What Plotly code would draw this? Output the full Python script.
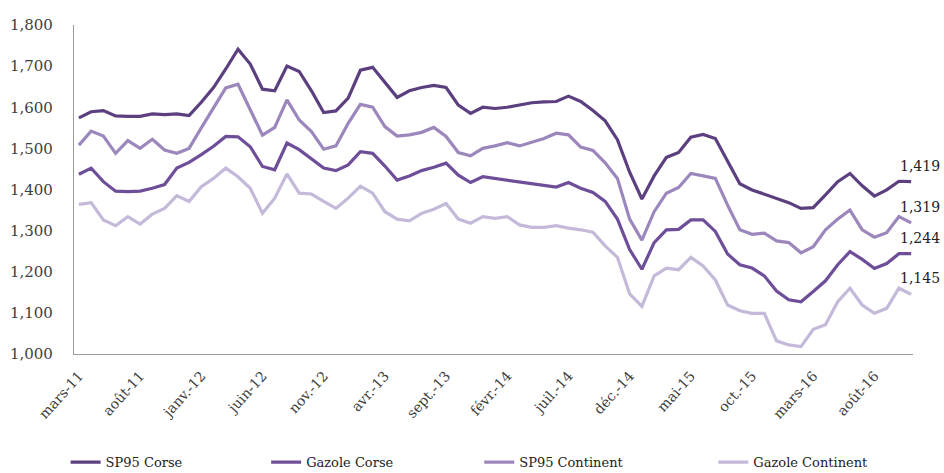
import plotly.graph_objects as go

months = [
    "mars-11", "avr.-11", "mai-11", "juin-11", "juil.-11", "août-11", "sept.-11", "oct.-11", "nov.-11", "déc.-11",
    "janv.-12", "févr.-12", "mars-12", "avr.-12", "mai-12", "juin-12", "juil.-12", "août-12", "sept.-12", "oct.-12", "nov.-12", "déc.-12",
    "janv.-13", "févr.-13", "mars-13", "avr.-13", "mai-13", "juin-13", "juil.-13", "août-13", "sept.-13", "oct.-13", "nov.-13", "déc.-13",
    "janv.-14", "févr.-14", "mars-14", "avr.-14", "mai-14", "juin-14", "juil.-14", "août-14", "sept.-14", "oct.-14", "nov.-14", "déc.-14",
    "janv.-15", "févr.-15", "mars-15", "avr.-15", "mai-15", "juin-15", "juil.-15", "août-15", "sept.-15", "oct.-15", "nov.-15", "déc.-15",
    "janv.-16", "févr.-16", "mars-16", "avr.-16", "mai-16", "juin-16", "juil.-16", "août-16", "sept.-16", "oct.-16", "nov.-16",
]

tick_labels = ["mars-11", "août-11", "janv.-12", "juin-12", "nov.-12", "avr.-13", "sept.-13",
               "févr.-14", "juil.-14", "déc.-14", "mai-15", "oct.-15", "mars-16", "août-16"]

sp95_corse = [
    1.574, 1.589, 1.592, 1.579, 1.578, 1.578, 1.584, 1.582, 1.584, 1.580,
    1.612, 1.648, 1.693, 1.741, 1.705, 1.644, 1.640, 1.700, 1.687, 1.640, 1.587, 1.591,
    1.622, 1.690, 1.697, 1.660, 1.624, 1.640, 1.648, 1.653, 1.648, 1.605, 1.585, 1.600,
    1.597, 1.600, 1.605, 1.611, 1.613, 1.614, 1.627, 1.614, 1.592, 1.567, 1.521, 1.442,
    1.377, 1.433, 1.478, 1.490, 1.527, 1.534, 1.524, 1.468, 1.414, 1.399, 1.389, 1.377,
    1.368, 1.354, 1.356, 1.387, 1.419, 1.439, 1.409, 1.384, 1.399, 1.420, 1.419,
]

gazole_corse = [
    1.437, 1.452, 1.419, 1.396, 1.395, 1.396, 1.403, 1.412, 1.452, 1.466,
    1.485, 1.505, 1.529, 1.528, 1.504, 1.456, 1.448, 1.513, 1.497, 1.475, 1.452, 1.446,
    1.460, 1.492, 1.488, 1.457, 1.423, 1.433, 1.446, 1.454, 1.464, 1.435, 1.417, 1.431,
    1.427, 1.423, 1.419, 1.415, 1.410, 1.406, 1.417, 1.403, 1.393, 1.371, 1.328, 1.254,
    1.206, 1.271, 1.302, 1.303, 1.326, 1.326, 1.298, 1.243, 1.217, 1.209, 1.190, 1.153,
    1.132, 1.127, 1.152, 1.178, 1.217, 1.249, 1.230, 1.208, 1.220, 1.244, 1.244,
]

sp95_continent = [
    1.508, 1.542, 1.530, 1.488, 1.519, 1.500, 1.522, 1.496, 1.488, 1.500,
    1.550, 1.598, 1.647, 1.656, 1.593, 1.532, 1.551, 1.618, 1.569, 1.541, 1.498, 1.506,
    1.561, 1.607, 1.600, 1.553, 1.530, 1.533, 1.539, 1.551, 1.529, 1.490, 1.482, 1.500,
    1.506, 1.514, 1.506, 1.514, 1.524, 1.537, 1.533, 1.503, 1.495, 1.465, 1.427, 1.328,
    1.277, 1.346, 1.391, 1.405, 1.439, 1.433, 1.427, 1.362, 1.302, 1.291, 1.294, 1.275,
    1.271, 1.246, 1.261, 1.302, 1.328, 1.350, 1.302, 1.284, 1.295, 1.334, 1.319,
]

gazole_continent = [
    1.364, 1.368, 1.326, 1.312, 1.334, 1.316, 1.340, 1.354, 1.385, 1.371,
    1.407, 1.427, 1.452, 1.431, 1.403, 1.342, 1.379, 1.438, 1.391, 1.389, 1.371, 1.354,
    1.379, 1.408, 1.391, 1.346, 1.328, 1.324, 1.342, 1.352, 1.366, 1.328, 1.318, 1.334,
    1.330, 1.334, 1.314, 1.308, 1.308, 1.312, 1.306, 1.302, 1.296, 1.263, 1.235, 1.146,
    1.116, 1.190, 1.209, 1.205, 1.235, 1.214, 1.180, 1.119, 1.105, 1.099, 1.099, 1.032,
    1.022, 1.018, 1.060, 1.071, 1.127, 1.160, 1.119, 1.099, 1.111, 1.160, 1.145,
]

series_names = ["SP95 Corse", "Gazole Corse", "SP95 Continent", "Gazole Continent"]
series_values = [sp95_corse, gazole_corse, sp95_continent, gazole_continent]
colors = ["#5b3f7f", "#6e4e99", "#9c87bd", "#c5b9da"]
legend_x = [-0.01, 0.229, 0.483, 0.762]

FONT = "DejaVu Serif"
fig = go.Figure()

for k, (name, vals, col) in enumerate(zip(series_names, series_values, colors)):
    lg = "legend" if k == 0 else f"legend{k+1}"
    fig.add_trace(go.Scatter(
        x=months, y=vals, mode="lines", name=name,
        line=dict(color=col, width=3.2), legend=lg,
        hoverinfo="skip",
    ))
    fig.add_annotation(
        x=months[-1], y=vals[-1], text=f"{vals[-1]:.3f}".replace(".", ","),
        showarrow=False, xshift=9, yshift=16,
        font=dict(family=FONT, size=14, color="#222222"),
    )

legend_common = dict(orientation="h", yanchor="top", y=-0.283, xanchor="left",
                     font=dict(family=FONT, size=13, color="#222222"),
                     bgcolor="rgba(0,0,0,0)", borderwidth=0)
layout_legends = {}
for k in range(4):
    key = "legend" if k == 0 else f"legend{k+1}"
    layout_legends[key] = dict(legend_common, x=legend_x[k])

fig.update_layout(
    width=944, height=473,
    margin=dict(l=74, r=31, t=25, b=119, autoexpand=False),
    paper_bgcolor="white", plot_bgcolor="white",
    separators=", ",
    showlegend=True,
    font=dict(family=FONT, size=14, color="#404040"),
    **layout_legends,
)

fig.update_xaxes(
    type="category", range=[-0.4, 68.15],
    tickmode="array", tickvals=tick_labels, ticktext=tick_labels,
    tickangle=-48, showgrid=False, zeroline=False, automargin=False,
    showline=True, linecolor="#9a9a9a", linewidth=1.3,
    ticks="", ticklabelstandoff=7,
    tickfont=dict(family=FONT, size=14, color="#404040"),
)
fig.update_yaxes(
    range=[1.0, 1.8], dtick=0.1, tick0=1.0, tickformat=".3f",
    showgrid=False, zeroline=False, automargin=False,
    showline=True, linecolor="#9a9a9a", linewidth=1.3,
    ticks="", ticklabelstandoff=17,
    tickfont=dict(family=FONT, size=15, color="#404040"),
)

fig.write_html(
    "out.html",
    config={"displayModeBar": False},
    post_script="document.body.style.margin='0';document.body.style.overflow='hidden';",
)
